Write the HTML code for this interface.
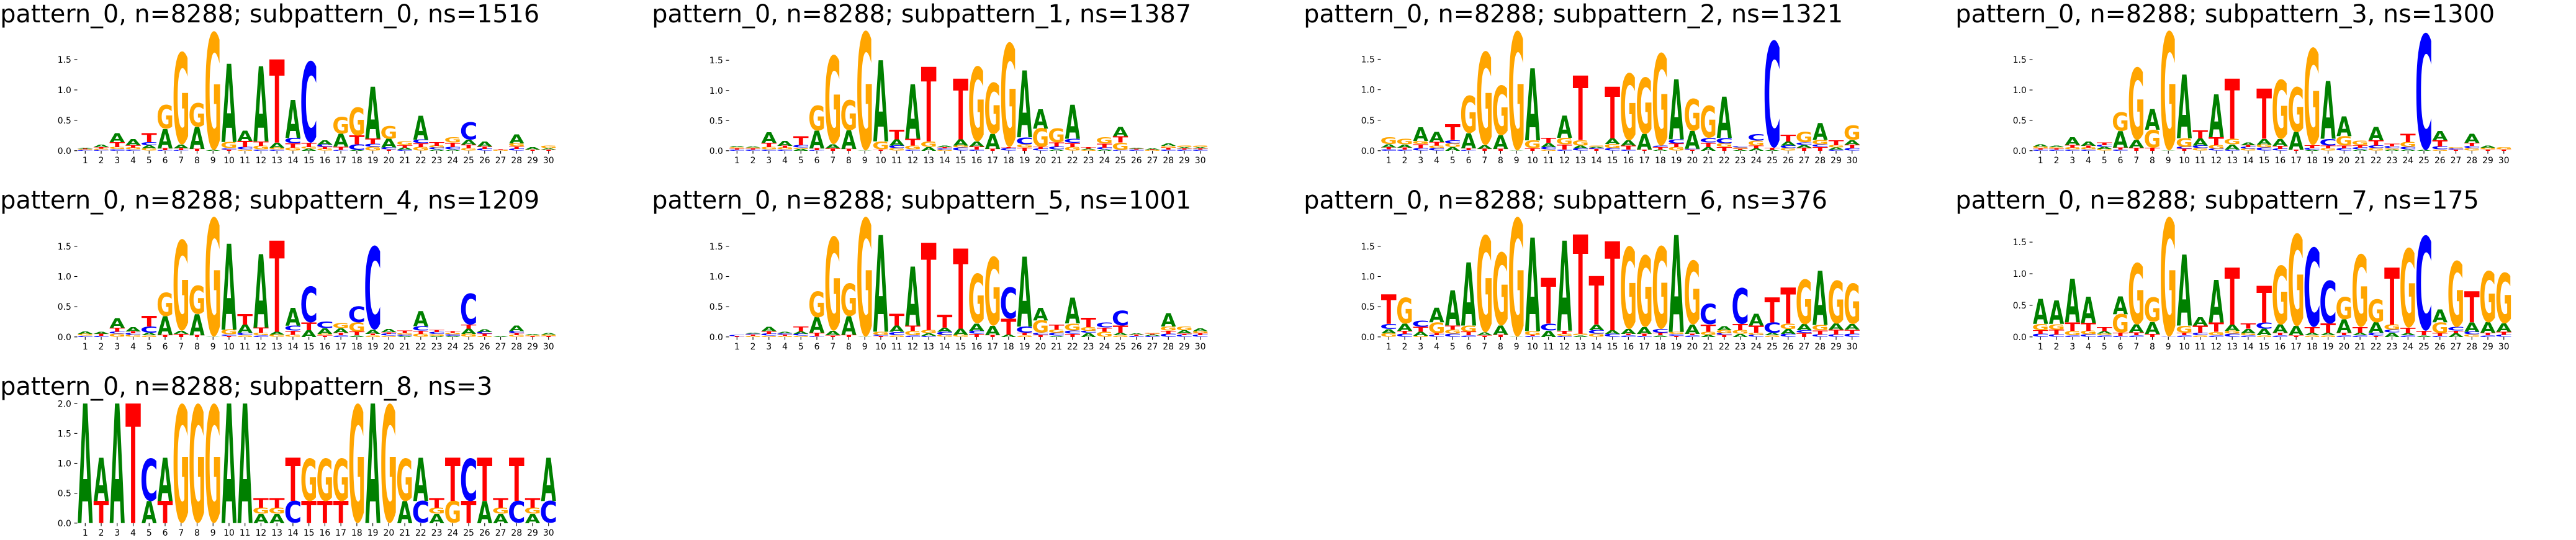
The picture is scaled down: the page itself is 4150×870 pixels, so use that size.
<!DOCTYPE html>
<html><head><meta charset="utf-8">
<style>
html,body{margin:0;padding:0;background:#fff;width:4150px;height:870px;overflow:hidden;}
svg{display:block;}
.tt{font-family:"DejaVu Sans","Liberation Sans",sans-serif;font-size:39.7px;fill:#000;}
.tk{font-family:"DejaVu Sans","Liberation Sans",sans-serif;font-size:13.9px;fill:#000;}
.lg{font-family:"DejaVu Sans","Liberation Sans",sans-serif;font-weight:bold;font-size:100px;text-anchor:middle;}
</style></head><body>
<svg xmlns="http://www.w3.org/2000/svg" width="4150" height="870" viewBox="0 0 4150 870">
<rect width="4150" height="870" fill="#fff"/>
<text class="tt" x="0.3" y="36">pattern_0, n=8288; subpattern_0, ns=1516</text>
<text class="tt" x="1050.3" y="36">pattern_0, n=8288; subpattern_1, ns=1387</text>
<text class="tt" x="2100.3" y="36">pattern_0, n=8288; subpattern_2, ns=1321</text>
<text class="tt" x="3150.3" y="36">pattern_0, n=8288; subpattern_3, ns=1300</text>
<text class="tt" x="0.3" y="336">pattern_0, n=8288; subpattern_4, ns=1209</text>
<text class="tt" x="1050.3" y="336">pattern_0, n=8288; subpattern_5, ns=1001</text>
<text class="tt" x="2100.3" y="336">pattern_0, n=8288; subpattern_6, ns=376</text>
<text class="tt" x="3150.3" y="336">pattern_0, n=8288; subpattern_7, ns=175</text>
<text class="tt" x="0.3" y="636">pattern_0, n=8288; subpattern_8, ns=3</text>
<g id="g"></g>
</svg>
<script>
var D=[
"C1.2G1.3T1A1.5|C1.5G2T2.5A4|C2.7G3.3T7.7A14.3|C2G3T4A9.7|G3.7A5C5T14|C1T3A31G39|C1T3A6G150|T3A35G39|A1G191.5|T2C2G10A126|G2C4T10A16|C2G6T7A121|C2G3A8T134|G5T7C9A61|A3G3T7C132|G3T3C4A7|C1.5T5A21G27.5|A1C9.3T14.3G45.7|G6C5T9A83|T2C3.3A14G20.7|C2A3T4G6|G6T6C6A38|A2C3G3T6|A2C4T7G8.7|G4T6A8C28|C3T4A8|G1T1|C3T4G5A14|T2A4|T2A2G4",
"C2T2G2A2|C2T2G1.5A1.5|C2G4T7A17|C2G3T3A7.7|A3G2C4T14|C1T3A28.7G41.3|T4A6.7G144|T3A29.7G49|A0.5G193|T2G13A130.7|G4C4.3A10T15.7|C2G6.3T11A88|A6G9T120|G2C2T2A2.3|C5G3.3A10T97.7|C2T5A8G121.7|T3A24G83.4|C4T2G169|T5G5C11.7A107.6|C3T3G30A31.3|A2C4.7T6.7G22.6|G6T6.7C6.7A54.6|G2A1.5T2.2|A2C3T6.7G10|C1G12.3T10A15|C2T1.5A1.5|G1T1A2|C2T3G2.7A4|C2T2A2G2.3|C2T2A2G2.3",
"C2.5T3A5G11.7|C2T3A5G9.3|C4T6.7G5.3A22.3|C4G4.3T5.7A16|A6G5.7C5.6T25|C1T3A24.3G61|T3A6G151.7|T3A22G81|A0.5G193|T4G12.7A116|G2C4A6.7T8|C2T8G10.7A36|C4A4.3G9T103.7|T3C2A1.5G1.8|C4G6.7A9.3T83.3|C2T6.3A8.3G109|T1.7A25G91.7|A2T3.7C2.3G150.3|G6T5.7C6.7A96.7|T2C1.3A28.3G52.3|A6T7.3C7.3G52.7|T6G5.7C9A66|A1.5T2G1.8C2|A4T4.3G7.7C10.7|A1.5T3.3C173.5|G4C4.3A6.7T10.7|T5A4.3C4G16.7|T6C4G7.3A27|C2A3G4T7.7|C4T6A7.3G23.7",
"C2T2G3A3|C2T2G2A2.3|C2G3T4.3A12.3|C2G3T3A7|G3A3C3T4.3|C2T3A26.7G30|T5A12.3G117.7|T5G29A33.3|A0.5G193|T3C3G14A102.7|G4C4.3A11.7T12.7|C3G5.7T13A69|C2A8G9.3T96.7|G3C3T3A4.3|C5G5A9.3T80.7|C3T5A11G96.7|T1.7A28.3G73.3|A1C3T5G157.7|G4T4.3C11A93|C4T4.3G15A31.7|A2C3T4G7|G4C4.3T8.3A21.7|A2G2C3T4.7|A2C4G7.7T13.6|A1C189|G2C5T10A14.7|T2C2G2|G4.3C3.3T5A14|T2G3A3.3|T2G3",
"C2G3A4|C2T3A3.3|G5C3.3T6.7A15.7|G3C3T3A7|G2.7A4C10T16.7|T3.3A30G38.3|T5A5G147.7|T3A33.7G46.7|A0.5G193|T2C2G7.7A138.3|G2.7C4A13.3T16.7|C2.7G4T8.3A118.3|G4A4.3T146.7|G3.3T6.7C8.3A28.4|A10.7T12.6C58.4|T2.7G2.3A9C11|C2.7T4A7.3G7.7|A2.7T5.6G15C26|G2.7T2.3A6.7C135.6|G2C3T2.7A5|A2C2G2.3T3.7|G5T5C7.3A24|A2G2.7C3T3|A2C2.3G2.3T2.7|G5A8.3T6.7C50.7|G2T3C3A4.7|A1|G3T3.3C3A9|T1.5G1.5A2|T2G2A2.7",
"T1.5C1.8|G2T2C1.2A1.5|G2C3T4.3A7.3|G2T2C2A2.3|G2C3A3.7T8|C1T5.7A25G42.6|T2.7A7.3G152.7|T3.3A30G53.4|A0.5G193|T1.7C1.7G5A155.6|G2.7C5.6A10T19|C2.7G7.3T8.3A95|C2A4G5T140.7|G3.3C5A6.7T20.7|G3.3A10T129|T5C5A11.7G81|T3A15G112|A4T25.3C51.4|G2.7T4C10A112.6|T3.3C3.4G20A20|A2C4.7G5.3T8|T5C5G11.7A41.6|A6.7C3G6T15|G8.3T6.7C8.3|G2.7A4T11.7C24.3|C2T2A2|C2A2T1.2G1.5|C5T5G6.7A21.6|C3T2.7A5G6|C3T3G3.3A4.7",
"G6A6.7C8T47.6|C5T5A11.7G42.3|G1.7A6.7T7.6C10|C3T3G17.3A23.4|C5G6.7T6.7A56.6|C2.7T5.6G10A101.7|T2.7A4.6G157.7|T4A14.3G119|A0.5G193|C1.7T1.7G6A150.6|A10C11.7T73.3|C1.7G3.3T5A145|A2.7G2.3T160|G5C5.7A9.3T78.3|C5A5.7T143.3|C2.7T2.3A7.7G134|C1.7T3.3A11G116.7|A2.7T4C6G134.6|T2C2.7G3.3A156|C2.7T2.3A15G104|A3.3G5T11.7C34|T3C3G5A6.3|A5G5.7T10C58.6|C3.3G3.4T11.6A19|G2.7A4C16.6T40|C5A7.7G9T57.6|T6.7C4A10G72.6|C4T6.7G8.6A87.4|C4T7.6A10G70.1|C5T6.7A9G66",
"C5T5.7G10A40|C4T7.7G9A37.6|C2.7G7.3T13.3A70|C4G6T12.7A42.3|C2.7G2.7A4T6.6|C1.7T5G30A28.3|C2.7T4.6A12.7G100|T5A19G40|C0.5G193|C2.7T4G11.6A114.4|G2.7C4T11.6A13.4|C2.7G5.6T15A68.4|C5G5A10T91.7|C2.7G3.3A7.3T8.4|G2.7A10.6C10T59.4|C2.7T4A13.3G96|T2.7A14.6G150|G2.7A4T9.3C129|G2.7A4T15C70|C2.7T4A21.6G36.7|C2.7A4T9.3G118|T2C4.7A16.6G37.4|A7.3C4.3G8.4T91.7|C2.7A3.3T9G129|A2.7T7.3C154|C1.7T4.3G17.3A20.7|A6T4C6G107.3|G4C4.3A15T50|C2.7T4A16.6G83.4|C3.3T5A13.4G82.3",
"A192.7|T35.7A69.3|A192.7|T192.7|A35.7C69.3|T35.7A69.3|G192.7|G192.7|G192.7|A192.7|A192.7|A15G10T15.7|A15G10T15.7|C35.7T69.3|T35.7G69.3|T35.7G69.3|T35.7G69.3|G192.7|A192.7|G192.7|A35.7G69.3|C35.7A69.3|A15G10T15.7|G35.7T69.3|T35.7C69.3|A35.7T69.3|A15G10T15.7|C35.7T69.3|A15G10T15.7|C35.7A69.3"
];
var PPU=[97.9,97.1,98.2,97.8,97.3,97.3,97.3,101.8,96.3];
var COL={A:'#008000',C:'#0000ff',G:'#ffa500',T:'#ff0000'};
var INK={A:0.774,C:0.631,G:0.727,T:0.672};
var HH={A:0.729,C:0.756,G:0.756,T:0.729};
var OFF={A:0,C:0.014,G:0.014,T:0};
var NS='http://www.w3.org/2000/svg', g=document.getElementById('g');
function el(tag,attrs,txt){var e=document.createElementNS(NS,tag);for(var k in attrs)e.setAttribute(k,attrs[k]);if(txt!=null)e.textContent=txt;g.appendChild(e);return e;}
var SP=25.74, W=24.45;
for(var p=0;p<9;p++){
  var ox=1050*(p%4), row=Math.floor(p/4), y0=242.8+300*row, ppu=PPU[p];
  var nt=(p==8)?5:4;
  for(var t=0;t<nt;t++){
    var ty=y0-t*0.5*ppu;
    el('line',{x1:ox+119.6,x2:ox+124.5,y1:ty,y2:ty,stroke:'#000','stroke-width':1.1});
    el('text',{'class':'tk',x:ox+114.8,y:ty+5.05,'text-anchor':'end'},(t*0.5).toFixed(1));
  }
  var cols=D[p].split('|');
  for(var i=0;i<30;i++){
    var cx=ox+137.3+SP*i;
    el('line',{x1:cx,x2:cx,y1:y0,y2:y0+4.86,stroke:'#000','stroke-width':1.1});
    el('text',{'class':'tk',x:cx,y:y0+20.4,'text-anchor':'middle'},String(i+1));
    var yb=y0, re=/([ACGT])([\d.]+)/g, m;
    while((m=re.exec(cols[i]||''))){
      var L=m[1],h=parseFloat(m[2]);
      if(h>0.3){
        var sy=h/(HH[L]*100), sx=W/(INK[L]*100);
        el('text',{'class':'lg',fill:COL[L],transform:'matrix('+sx.toFixed(5)+' 0 0 '+sy.toFixed(5)+' '+cx.toFixed(2)+' '+(yb-OFF[L]*100*sy).toFixed(2)+')'},L);
      }
      yb-=h;
    }
  }
}
</script>
</body></html>
